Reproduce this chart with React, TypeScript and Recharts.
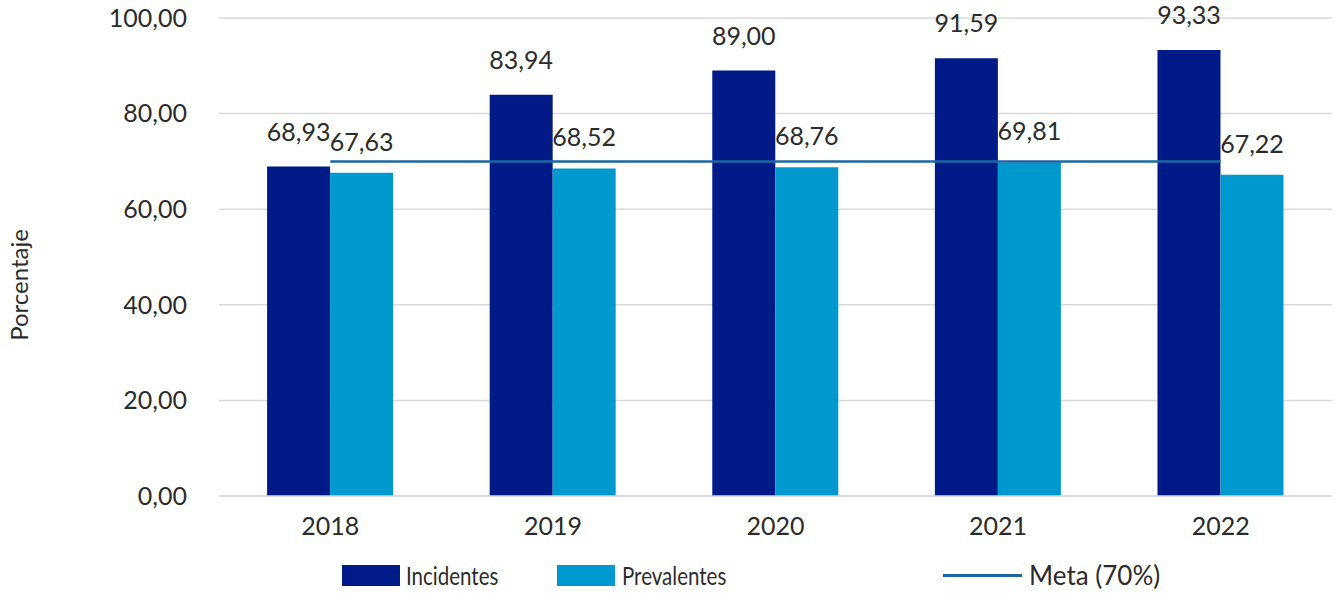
import {
  ComposedChart,
  Bar,
  Line,
  XAxis,
  YAxis,
  CartesianGrid,
  Legend,
  LabelList,
} from "recharts";

const years = ["2018", "2019", "2020", "2021", "2022"];
const incidentes = [68.93, 83.94, 89.0, 91.59, 93.33];
const prevalentes = [67.63, 68.52, 68.76, 69.81, 67.22];
const meta = [70, 70, 70, 70, 70];
const yTicks = [0, 20, 40, 60, 80, 100];

const data = years.map((year, i) => ({
  year,
  incidentes: incidentes[i],
  prevalentes: prevalentes[i],
  meta: meta[i],
}));

const FONT = "Lato, 'Noto Sans', sans-serif";
const TEXT = "#2b2b2b";
const DARK = "#001b87";
const LIGHT = "#0099cf";
const META = "#1c67a3";

const fmt = (v: number) => v.toFixed(2).replace(".", ",");

function ChartLegend() {
  const text = {
    position: "absolute" as const,
    top: 0,
    fontSize: 25,
    color: TEXT,
    lineHeight: "32px",
    whiteSpace: "nowrap" as const,
    transformOrigin: "left center",
  };
  return (
    <div style={{ position: "relative", width: 1335, height: 34, fontFamily: FONT }}>
      <div style={{ position: "absolute", left: 342, top: 6, width: 58, height: 21, background: DARK }} />
      <span style={{ ...text, left: 406, transform: "scaleX(0.82)" }}>Incidentes</span>
      <div style={{ position: "absolute", left: 557, top: 6, width: 58, height: 21, background: LIGHT }} />
      <span style={{ ...text, left: 622, transform: "scaleX(0.82)" }}>Prevalentes</span>
      <div style={{ position: "absolute", left: 943, top: 15, width: 79, height: 3, background: META }} />
      <span style={{ ...text, left: 1029, fontSize: 26 }}>Meta (70%)</span>
    </div>
  );
}

export default function App() {
  return (
    <div style={{ position: "absolute", left: 0, top: 0, background: "#fff" }}>
      <ComposedChart
        width={1335}
        height={593}
        data={data}
        margin={{ top: 18, right: 3, bottom: 0, left: 0 }}
        barCategoryGap="21.6%"
        barGap={0}
        style={{ fontFamily: FONT }}
      >
        <CartesianGrid vertical={false} stroke="#d9d9d9" strokeWidth={1.5} />
        <XAxis
          dataKey="year"
          height={63}
          tickLine={false}
          tickSize={0}
          tickMargin={21}
          axisLine={{ stroke: "#d9d9d9", strokeWidth: 1.5 }}
          tick={{ fill: TEXT, fontSize: 25 }}
        />
        <YAxis
          width={219}
          domain={[0, 100]}
          ticks={yTicks}
          tickFormatter={fmt}
          tickLine={false}
          axisLine={false}
          tickSize={0}
          tickMargin={32}
          tick={{ fill: TEXT, fontSize: 25 }}
          label={{
            value: "Porcentaje",
            angle: -90,
            position: "center",
            dx: -90,
            dy: 28,
            fontSize: 24,
            fill: TEXT,
            textAnchor: "middle",
          }}
        />
        <Legend verticalAlign="bottom" wrapperStyle={{ left: 0, bottom: 0 }} content={() => <ChartLegend />} />
        <Bar dataKey="incidentes" name="Incidentes" fill={DARK} isAnimationActive={false}>
          <LabelList dataKey="incidentes" position="top" offset={26} formatter={(v: any) => fmt(Number(v))} fill={TEXT} fontSize={25} />
        </Bar>
        <Bar dataKey="prevalentes" name="Prevalentes" fill={LIGHT} isAnimationActive={false}>
          <LabelList dataKey="prevalentes" position="top" offset={22} formatter={(v: any) => fmt(Number(v))} fill={TEXT} fontSize={25} />
        </Bar>
        <Line dataKey="meta" name="Meta (70%)" stroke={META} strokeWidth={2.5} dot={false} activeDot={false} isAnimationActive={false} />
      </ComposedChart>
    </div>
  );
}
